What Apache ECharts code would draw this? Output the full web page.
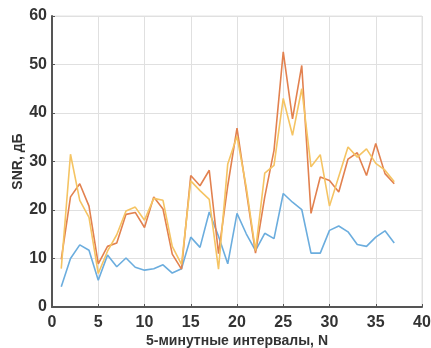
<!DOCTYPE html>
<html>
<head>
<meta charset="utf-8">
<script src="https://cdn.jsdelivr.net/npm/echarts@6/dist/echarts.min.js"></script>
<style>html,body{margin:0;padding:0;background:#fff;}#c{width:431px;height:348px;}</style>
</head>
<body>
<div id="c"></div>
<script>
var xs = [1,2,3,4,5,6,7,8,9,10,11,12,13,14,15,16,17,18,19,20,21,22,23,24,25,26,27,28,29,30,31,32,33,34,35,36,37];
var blue = [4.2,10,12.8,11.7,5.5,10.7,8.3,10.1,8.2,7.6,7.9,8.7,7.0,7.9,14.4,12.3,19.6,14.6,8.9,19.3,15.1,11.6,15.2,14.1,23.4,21.6,20.1,11.1,11.1,15.8,16.7,15.5,12.9,12.5,14.4,15.7,13.2];
var orange = [9.8,22.7,25.4,20.8,8.9,12.5,13.2,19.1,19.5,16.4,22.7,20.2,10.9,7.8,27.1,25.0,28.2,11.0,25.0,36.9,24.0,11.1,22.7,32.3,52.6,38.8,49.8,19.3,26.8,26.1,23.7,30.5,31.8,27.1,33.7,27.5,25.4];
var yellow = [7.9,31.5,22.0,18.5,6.9,11.5,14.9,19.8,20.6,17.9,22.4,22.0,12.5,8.8,26.0,24.0,22.2,7.8,29.5,35.2,24.7,11.6,27.6,29.2,43.0,35.4,45.0,28.9,31.4,20.8,26.9,33.0,30.9,32.6,29.6,28.2,25.8];
var xTicks = [0,5,10,15,20,25,30,35,40];
var yTicks = [0,10,20,30,40,50,60];

function pairs(v){ return xs.map(function(x,i){ return [x, v[i]]; }); }
var font = '"Liberation Sans", Arial, sans-serif';
var chart = echarts.init(document.getElementById('c'), null, {renderer:'canvas'});
function line(name, v, color){
  return {name:name, type:'line', data:pairs(v), showSymbol:false, symbol:'none',
    lineStyle:{color:color, width:1.6}, itemStyle:{color:color}, animation:false, z:3};
}
chart.setOption({
  animation:false,
  grid:{left:52, right:9, top:16, bottom:41, show:true, borderColor:'#e2e2e2', borderWidth:1,
    containLabel:false, outerBoundsMode:'none'},
  xAxis:{type:'value', min:xTicks[0], max:xTicks[xTicks.length-1], interval:5,
    name:'5-минутные интервалы, N', nameLocation:'middle', nameGap:27, nameMoveOverlap:false,
    nameTextStyle:{fontFamily:font, fontSize:14, fontWeight:'bold', color:'#333'},
    axisLine:{show:true, lineStyle:{color:'#555', width:2}},
    axisTick:{show:true, inside:true, length:3, lineStyle:{color:'#555'}},
    axisLabel:{fontFamily:font, fontSize:16, fontWeight:'bold', color:'#333', margin:8},
    splitLine:{show:true, lineStyle:{color:'#e0e0e0', width:1}}},
  yAxis:{type:'value', min:yTicks[0], max:yTicks[yTicks.length-1], interval:10,
    name:'SNR, дБ', nameLocation:'middle', nameGap:27, nameRotate:90, nameMoveOverlap:false,
    nameTextStyle:{fontFamily:font, fontSize:14, fontWeight:'bold', color:'#333'},
    axisLine:{show:true, lineStyle:{color:'#555', width:2}},
    axisTick:{show:true, inside:true, length:3, lineStyle:{color:'#555'}},
    axisLabel:{fontFamily:font, fontSize:16, fontWeight:'bold', color:'#333', margin:5},
    splitLine:{show:true, lineStyle:{color:'#e0e0e0', width:1}}},
  series:[
    line('blue', blue, '#6badde'),
    line('orange', orange, '#e2814f'),
    line('yellow', yellow, '#f5c463')
  ]
});
</script>
</body>
</html>
